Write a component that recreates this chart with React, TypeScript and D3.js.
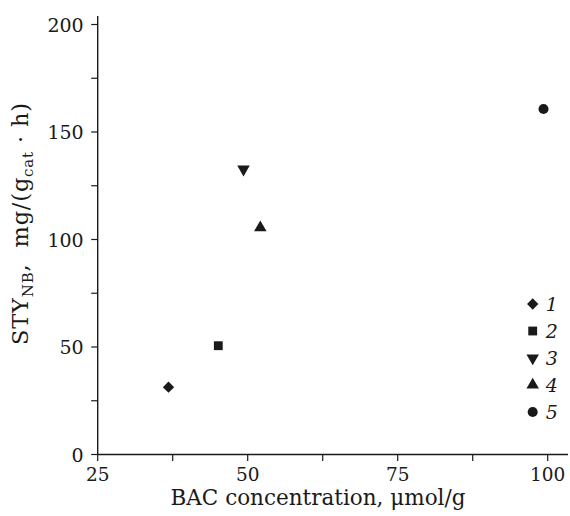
import React from "react";
import * as d3 from "d3";

const seriesLabels = ["1", "2", "3", "4", "5"];
const bacConcentration = [36.8, 45.1, 49.3, 52.1, 99.3];
const styValues = [31.3, 50.6, 132.7, 105.5, 160.7];
const xTicks = [25, 50, 75, 100];
const xMinorTicks = [37.5, 62.5, 87.5];
const yTicks = [0, 50, 100, 150, 200];
const yMinorTicks = [25, 75, 125, 175];

const W = 570;
const H = 516;
const FONT = "'DejaVu Serif', serif";
const INK = "#1a1a1a";

const markerTypes = [d3.symbolSquare, d3.symbolSquare, d3.symbolTriangle, d3.symbolTriangle, d3.symbolCircle];
const markerSizes = [64, 78, 68, 68, 80];
const markerRotations = [45, 0, 180, 0, 0];

function markerPath(i: number): string {
  return d3.symbol().type(markerTypes[i]).size(markerSizes[i])() as string;
}

export default function App() {
  const x = d3.scaleLinear().domain([25, 100]).range([97.7, 547.7]);
  const y = d3.scaleLinear().domain([0, 200]).range([454.5, 24.5]);
  const x0 = x(25);
  const y0 = y(0);
  const xEnd = 568;
  const yTop = 16;
  const tickLen = 6.5;

  const legendX = 532.7;
  const legendY0 = 304;
  const legendStep = 27;

  return (
    <svg width={W} height={H} style={{ position: "absolute", left: 0, top: 0, background: "#fff" }} fontFamily={FONT}>
      <rect x={0} y={0} width={W} height={H} fill="#fff" />
      {/* axes */}
      <line x1={x0} y1={y0} x2={xEnd} y2={y0} stroke={INK} strokeWidth={1.4} />
      <line x1={x0} y1={y0} x2={x0} y2={yTop} stroke={INK} strokeWidth={1.4} />
      {[...xTicks, ...xMinorTicks].map((t) => (
        <line key={"xt" + t} x1={x(t)} x2={x(t)} y1={y0} y2={y0 + tickLen} stroke={INK} strokeWidth={1.2} />
      ))}
      {[...yTicks, ...yMinorTicks].map((t) => (
        <line key={"yt" + t} x1={x0 - tickLen} x2={x0} y1={y(t)} y2={y(t)} stroke={INK} strokeWidth={1.2} />
      ))}
      {xTicks.map((t) => (
        <text key={"xl" + t} x={x(t)} y={y0 + 26.5} textAnchor="middle" fontSize={18.5} fill={INK}>
          {t}
        </text>
      ))}
      {yTicks.map((t) => (
        <text key={"yl" + t} x={x0 - 14} y={y(t) + 7} textAnchor="end" fontSize={19} fill={INK}>
          {t}
        </text>
      ))}
      <text x={318} y={504.5} textAnchor="middle" fontSize={21.5} fill={INK}>
        BAC concentration, μmol/g
      </text>
      <text
        transform="translate(28,224) rotate(-90)"
        textAnchor="middle"
        fontSize={22.5}
        fill={INK}
        textLength={242}
        lengthAdjust="spacing"
      >
        <tspan>STY</tspan>
        <tspan fontSize={15} dy={5}>NB</tspan>
        <tspan dy={-5}>,{"\u00a0\u00a0"}mg/(g</tspan>
        <tspan fontSize={15} dy={5}>cat</tspan>
        <tspan dy={-5}>{"\u00a0\u00b7\u00a0"}h)</tspan>
      </text>
      {/* data points */}
      {bacConcentration.map((v, i) => (
        <path
          key={"pt" + i}
          d={markerPath(i)}
          transform={`translate(${x(v)},${y(styValues[i])}) rotate(${markerRotations[i]})`}
          fill={INK}
        />
      ))}
      {/* legend */}
      {seriesLabels.map((lab, i) => (
        <g key={"lg" + i} transform={`translate(${legendX},${legendY0 + i * legendStep})`}>
          <path d={markerPath(i)} transform={`rotate(${markerRotations[i]})`} fill={INK} />
          <text x={13} y={7} fontSize={19} fontStyle="italic" fill={INK}>
            {lab}
          </text>
        </g>
      ))}
    </svg>
  );
}
